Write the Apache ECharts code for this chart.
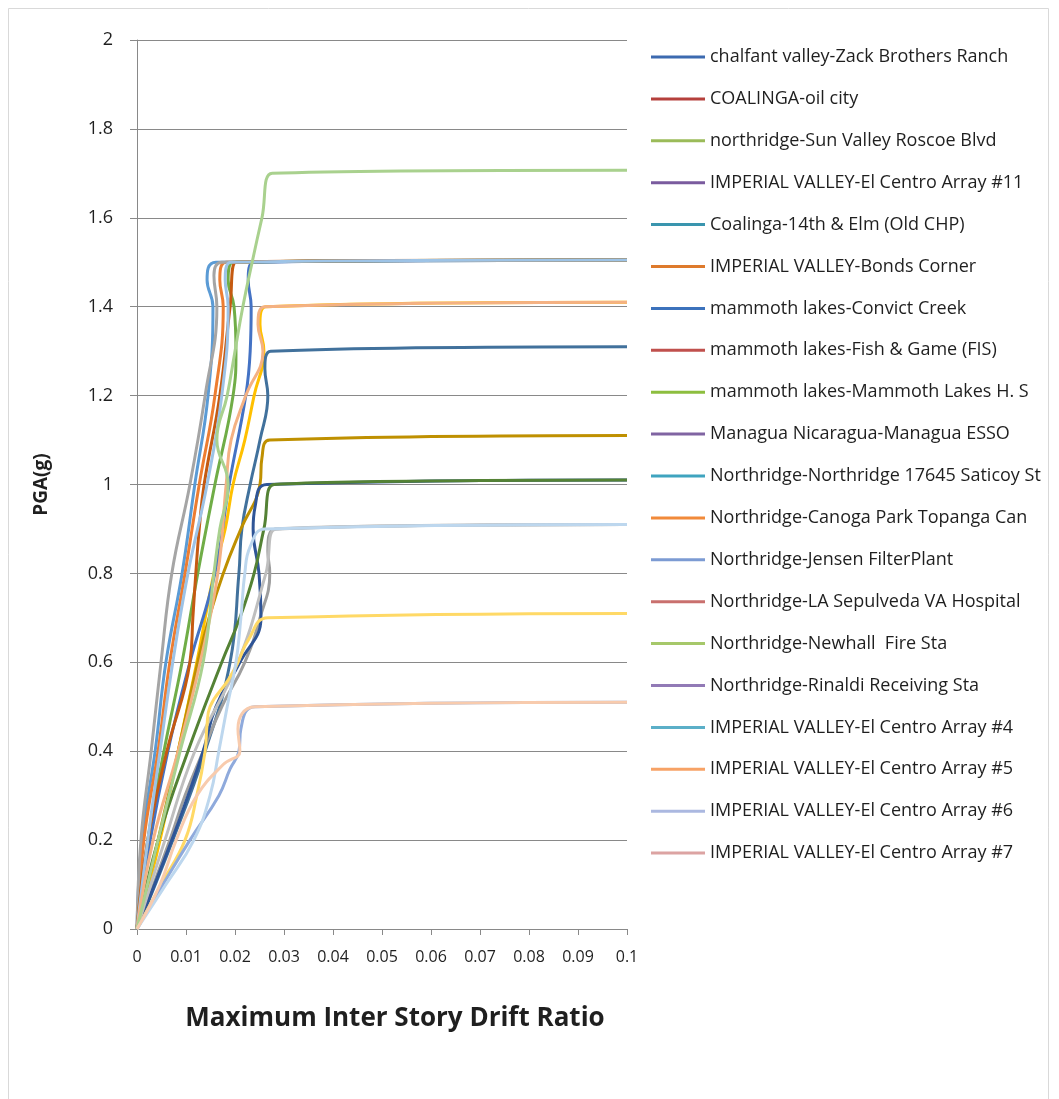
<!DOCTYPE html>
<html><head><meta charset="utf-8">
<script src="https://cdn.jsdelivr.net/npm/echarts@6/dist/echarts.min.js"></script>
<style>html,body{margin:0;padding:0;background:#fff}#c{width:1059px;height:1099px}</style>
</head><body><div id="c"></div>
<script>
// Series names (legend order)
const seriesNames = [
  "chalfant valley-Zack Brothers Ranch",
  "COALINGA-oil city",
  "northridge-Sun Valley Roscoe Blvd",
  "IMPERIAL VALLEY-El Centro Array #11",
  "Coalinga-14th & Elm (Old CHP)",
  "IMPERIAL VALLEY-Bonds Corner",
  "mammoth lakes-Convict Creek",
  "mammoth lakes-Fish & Game (FIS)",
  "mammoth lakes-Mammoth Lakes H. S",
  "Managua Nicaragua-Managua ESSO",
  "Northridge-Northridge 17645 Saticoy St",
  "Northridge-Canoga Park Topanga Can",
  "Northridge-Jensen FilterPlant",
  "Northridge-LA Sepulveda VA Hospital",
  "Northridge-Newhall  Fire Sta",
  "Northridge-Rinaldi Receiving Sta",
  "IMPERIAL VALLEY-El Centro Array #4",
  "IMPERIAL VALLEY-El Centro Array #5",
  "IMPERIAL VALLEY-El Centro Array #6",
  "IMPERIAL VALLEY-El Centro Array #7"
];

// [drift ratio, PGA(g)]
const s01 = [[0,0],[0.0010,0.2],[0.0037,0.4],[0.0059,0.6],[0.0092,0.8],[0.0118,1.0],[0.0145,1.2],[0.0155,1.4],[0.0143,1.46],[0.0161,1.5],[0.1,1.505]];
const s02 = [[0,0],[0.0014,0.2],[0.0043,0.4],[0.0067,0.6],[0.0098,0.8],[0.0127,1.0],[0.0159,1.2],[0.0176,1.4],[0.0169,1.46],[0.0182,1.5],[0.1,1.505]];
const s03 = [[0,0],[0.0008,0.2],[0.0029,0.4],[0.0049,0.6],[0.0071,0.8],[0.0108,1.0],[0.0139,1.2],[0.0163,1.4],[0.0157,1.47],[0.0173,1.5],[0.1,1.505]];
const s04 = [[0,0],[0.0047,0.2],[0.0084,0.4],[0.0122,0.6],[0.0157,0.8],[0.0180,0.9],[0.0196,1.0],[0.0220,1.1],[0.0239,1.2],[0.0259,1.3],[0.0251,1.36],[0.0263,1.4],[0.1,1.41]];
const s05 = [[0,0],[0.0027,0.2],[0.0063,0.4],[0.0108,0.6],[0.0159,0.8],[0.0188,1.0],[0.0222,1.2],[0.0231,1.3],[0.0233,1.4],[0.0227,1.46],[0.0239,1.5],[0.1,1.505]];
const s06 = [[0,0],[0.0022,0.2],[0.0055,0.4],[0.0092,0.6],[0.0124,0.8],[0.0159,1.0],[0.0196,1.2],[0.0202,1.3],[0.0198,1.4],[0.0186,1.46],[0.0196,1.5],[0.1,1.505]];
const s07 = [[0,0],[0.0073,0.2],[0.0139,0.4],[0.0190,0.6],[0.0208,0.8],[0.0214,0.9],[0.0231,1.0],[0.0251,1.1],[0.0267,1.2],[0.0261,1.26],[0.0273,1.3],[0.1,1.31]];
const s08 = [[0,0],[0.0022,0.2],[0.0061,0.4],[0.0108,0.6],[0.0114,0.7],[0.0120,0.8],[0.0127,0.9],[0.0137,1.0],[0.0169,1.2],[0.0190,1.4],[0.0202,1.5],[0.1,1.505]];
const s09 = [[0,0],[0.0067,0.2],[0.0098,0.3],[0.0135,0.4],[0.0173,0.5],[0.0220,0.6],[0.0251,0.7],[0.0271,0.8],[0.0267,0.85],[0.0282,0.9],[0.1,0.91]];
const s10 = [[0,0],[0.0043,0.2],[0.0084,0.4],[0.0124,0.6],[0.0147,0.7],[0.0176,0.8],[0.0212,0.9],[0.0251,1.0],[0.0255,1.06],[0.0271,1.1],[0.1,1.11]];
const s11 = [[0,0],[0.0071,0.2],[0.0104,0.3],[0.0135,0.4],[0.0161,0.5],[0.0210,0.6],[0.0253,0.7],[0.0249,0.8],[0.0237,0.9],[0.0241,0.95],[0.0265,1.0],[0.1,1.01]];
const s12 = [[0,0],[0.0043,0.2],[0.0104,0.4],[0.0173,0.6],[0.0210,0.7],[0.0239,0.8],[0.0259,0.9],[0.0280,1.0],[0.1,1.01]];
const s13 = [[0,0],[0.0022,0.2],[0.0047,0.4],[0.0073,0.6],[0.0104,0.8],[0.0143,1.0],[0.0173,1.2],[0.0186,1.4],[0.0180,1.46],[0.0192,1.5],[0.1,1.505]];
const s14 = [[0,0],[0.0033,0.2],[0.0084,0.4],[0.0129,0.6],[0.0165,0.8],[0.0182,1.0],[0.0192,1.1],[0.0222,1.2],[0.0257,1.3],[0.0247,1.36],[0.0261,1.4],[0.1,1.41]];
const s15 = [[0,0],[0.0057,0.2],[0.0118,0.4],[0.0206,0.6],[0.0263,0.8],[0.0284,0.9],[0.1,0.91]];
const s16 = [[0,0],[0.0049,0.1],[0.0098,0.2],[0.0122,0.3],[0.0139,0.4],[0.0143,0.46],[0.0149,0.5],[0.0186,0.56],[0.0206,0.6],[0.0227,0.65],[0.0267,0.7],[0.1,0.71]];
const s17 = [[0,0],[0.0053,0.1],[0.0108,0.2],[0.0167,0.3],[0.0190,0.36],[0.0208,0.4],[0.0212,0.45],[0.0241,0.5],[0.1,0.51]];
const s18 = [[0,0],[0.0043,0.2],[0.0088,0.4],[0.0135,0.6],[0.0157,0.8],[0.0169,0.9],[0.0186,1.0],[0.0163,1.1],[0.0184,1.2],[0.0200,1.3],[0.0216,1.4],[0.0235,1.5],[0.0255,1.6],[0.0276,1.7],[0.1,1.707]];
const s19 = [[0,0],[0.0059,0.1],[0.0116,0.2],[0.0149,0.3],[0.0167,0.4],[0.0184,0.5],[0.0202,0.6],[0.0212,0.7],[0.0220,0.8],[0.0231,0.86],[0.0261,0.9],[0.1,0.91]];
const s20 = [[0,0],[0.0047,0.1],[0.0080,0.2],[0.0122,0.3],[0.0176,0.37],[0.0210,0.4],[0.0206,0.45],[0.0241,0.5],[0.1,0.51]];
const seriesData = [s01,s02,s03,s04,s05,s06,s07,s08,s09,s10,s11,s12,s13,s14,s15,s16,s17,s18,s19,s20];

// Tick labels
const xTickLabels = ["0","0.01","0.02","0.03","0.04","0.05","0.06","0.07","0.08","0.09","0.1"];
const yTickLabels = ["0","0.2","0.4","0.6","0.8","1","1.2","1.4","1.6","1.8","2"];

// Colours of plotted lines
const lineColors = ["#5B9BD5","#ED7D31","#A5A5A5","#FFC000","#4472C4","#70AD47","#41719C","#C55A11","#9E9E9E","#BF9000",
                    "#2F5597","#548235","#9DC3E6","#F4B183","#BFBFBF","#FFD966","#8FAADC","#A9D18E","#BDD7EE","#F8CBAD"];
// Colours shown in the legend
const legendColors = ["#3C6AB0","#B5403C","#9BBB59","#7A5B9E","#3A95AE","#DE7A2C","#3C72BC","#C0504D","#8DBE3F","#8064A2",
                      "#3FA4BF","#F18A3A","#7C9BD3","#C9706E","#A6C86A","#927AB6","#5BAFC8","#F7A266","#ABB8E0","#DCA3A2"];

const chart = echarts.init(document.getElementById('c'), null, {renderer:'canvas'});
const axisGray = '#898989';
const txt = '#1f1f1f';
const option = {
  animation: false,
  backgroundColor: '#fff',
  graphic: [{type:'rect', shape:{x:8.5,y:8.5,width:1040,height:1100}, style:{fill:'none', stroke:'#D9D9D9', lineWidth:1}, silent:true}],
  grid: {left:137, top:40, width:490, height:889, containLabel:false},
  xAxis: {
    type:'value', min:0, max:0.1, interval:0.01,
    name:'Maximum Inter Story Drift Ratio', nameLocation:'middle', nameGap:77,
    nameTextStyle:{fontFamily:'Open Sans', fontWeight:'bold', fontSize:26, color:txt, padding:[0,0,0,26]},
    axisLine:{show:true, lineStyle:{color:axisGray, width:1}},
    axisTick:{show:true, inside:false, length:6, lineStyle:{color:axisGray}},
    splitLine:{show:false},
    axisLabel:{fontFamily:'Open Sans', fontSize:16, color:txt, margin:20,
      formatter:(v,i)=>xTickLabels[i]}
  },
  yAxis: {
    type:'value', min:0, max:2, interval:0.2,
    name:'PGA(g)', nameLocation:'middle', nameGap:86, nameRotate:90,
    nameTextStyle:{fontFamily:'Open Sans', fontWeight:'bold', fontSize:19, color:txt},
    axisLine:{show:true, lineStyle:{color:axisGray, width:1}},
    axisTick:{show:true, inside:false, length:7, lineStyle:{color:axisGray}},
    splitLine:{show:true, lineStyle:{color:axisGray, width:1}},
    axisLabel:{fontFamily:'Open Sans', fontSize:18, color:txt, margin:24,
      formatter:(v,i)=>yTickLabels[i]}
  },
  legend: {
    orient:'vertical', left:651, top:47, padding:0, itemWidth:54, itemHeight:3, itemGap:21.9,
    icon:'rect',
    textStyle:{fontFamily:'Open Sans', fontSize:18, color:txt, lineHeight:20},
    data: seriesNames.map((n,i)=>({name:n, itemStyle:{color:legendColors[i]}, lineStyle:{color:legendColors[i]}}))
  },
  series: seriesNames.map((n,i)=>({
    name:n, type:'line', data:seriesData[i], smooth:0.45, showSymbol:false, symbol:'none',
    lineStyle:{width:3, color:lineColors[i]}, itemStyle:{color:lineColors[i]}
  }))
};
chart.setOption(option);
</script></body></html>
